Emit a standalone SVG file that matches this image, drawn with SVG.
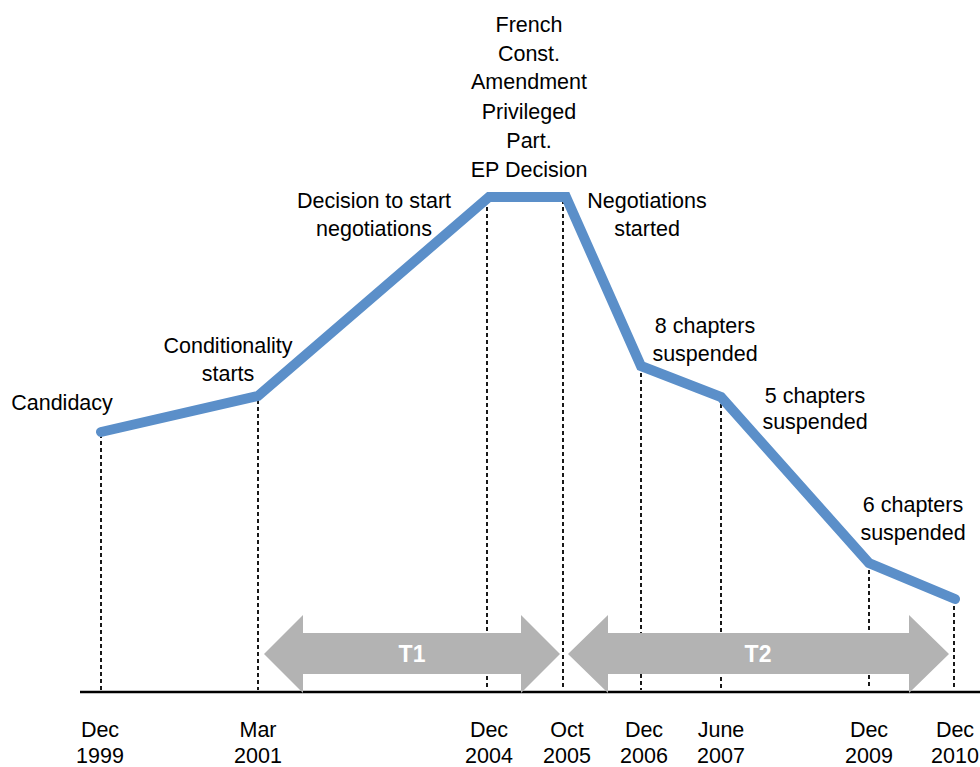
<svg xmlns="http://www.w3.org/2000/svg" width="980" height="767" viewBox="0 0 980 767">
<style>
.t{font-family:"Liberation Sans",Arial,sans-serif;font-size:21.5px;fill:#000;text-anchor:middle}
.d{stroke:#000;stroke-width:1.8;stroke-dasharray:4,3;fill:none}
.arr{fill:#b3b3b3}
.at{font-family:"Liberation Sans",Arial,sans-serif;font-size:23px;font-weight:bold;fill:#fff;text-anchor:middle}
</style>
<rect width="980" height="767" fill="#fff"/>
<g id="connectors">
<line class="d" x1="101" y1="434" x2="101" y2="690"/>
<line class="d" x1="258" y1="400" x2="258" y2="690"/>
<line class="d" x1="487" y1="200" x2="487" y2="688"/>
<line class="d" x1="563" y1="200" x2="563" y2="688"/>
<line class="d" x1="641" y1="366" x2="641" y2="690"/>
<line class="d" x1="721" y1="397" x2="721" y2="690"/>
<line class="d" x1="869" y1="563" x2="869" y2="688"/>
<line class="d" x1="954" y1="599" x2="954" y2="690"/>
<line x1="80" y1="692" x2="980" y2="692" stroke="#000" stroke-width="2.5"/>
<polyline points="101,432 258,396 489,197 566,197 641,366 721,397 869,563 955,599" fill="none" stroke="#5b8fc9" stroke-width="10" stroke-linejoin="miter" stroke-linecap="round"/>
</g>
<g id="T1">
<polygon class="arr" points="264,654 303,615 303,633 521,633 521,615 560,654 521,693 521,674 303,674 303,693"/>
<text class="at" x="412" y="662">T1</text>
</g>
<g id="T2">
<polygon class="arr" points="568,654 608,615 608,633 909,633 909,615 949,654 909,693 909,674 608,674 608,693"/>
<text class="at" x="758" y="662">T2</text>
</g>
<g id="candidacy"><text class="t" x="62" y="410">Candidacy</text></g>
<g id="conditionality"><text class="t" x="228" y="353">Conditionality</text><text class="t" x="228" y="381">starts</text></g>
<g id="decision"><text class="t" x="374" y="208">Decision to start</text><text class="t" x="374" y="236">negotiations</text></g>
<g id="french"><text class="t" x="529" y="32">French</text><text class="t" x="529" y="61">Const.</text><text class="t" x="529" y="89">Amendment</text><text class="t" x="529" y="119">Privileged</text><text class="t" x="529" y="148">Part.</text><text class="t" x="529" y="177">EP Decision</text></g>
<g id="negotiations"><text class="t" x="647" y="208">Negotiations</text><text class="t" x="647" y="236">started</text></g>
<g id="ch8"><text class="t" x="705" y="333">8 chapters</text><text class="t" x="705" y="361">suspended</text></g>
<g id="ch5"><text class="t" x="815" y="403">5 chapters</text><text class="t" x="815" y="429">suspended</text></g>
<g id="ch6"><text class="t" x="913" y="512">6 chapters</text><text class="t" x="913" y="540">suspended</text></g>
<g id="dates">
<text class="t" x="100" y="737">Dec</text><text class="t" x="100" y="763">1999</text>
<text class="t" x="258" y="737">Mar</text><text class="t" x="258" y="763">2001</text>
<text class="t" x="489" y="737">Dec</text><text class="t" x="489" y="763">2004</text>
<text class="t" x="567" y="737">Oct</text><text class="t" x="567" y="763">2005</text>
<text class="t" x="644" y="737">Dec</text><text class="t" x="644" y="763">2006</text>
<text class="t" x="721" y="737">June</text><text class="t" x="721" y="763">2007</text>
<text class="t" x="869" y="737">Dec</text><text class="t" x="869" y="763">2009</text>
<text class="t" x="955" y="737">Dec</text><text class="t" x="955" y="763">2010</text>
</g>
</svg>
